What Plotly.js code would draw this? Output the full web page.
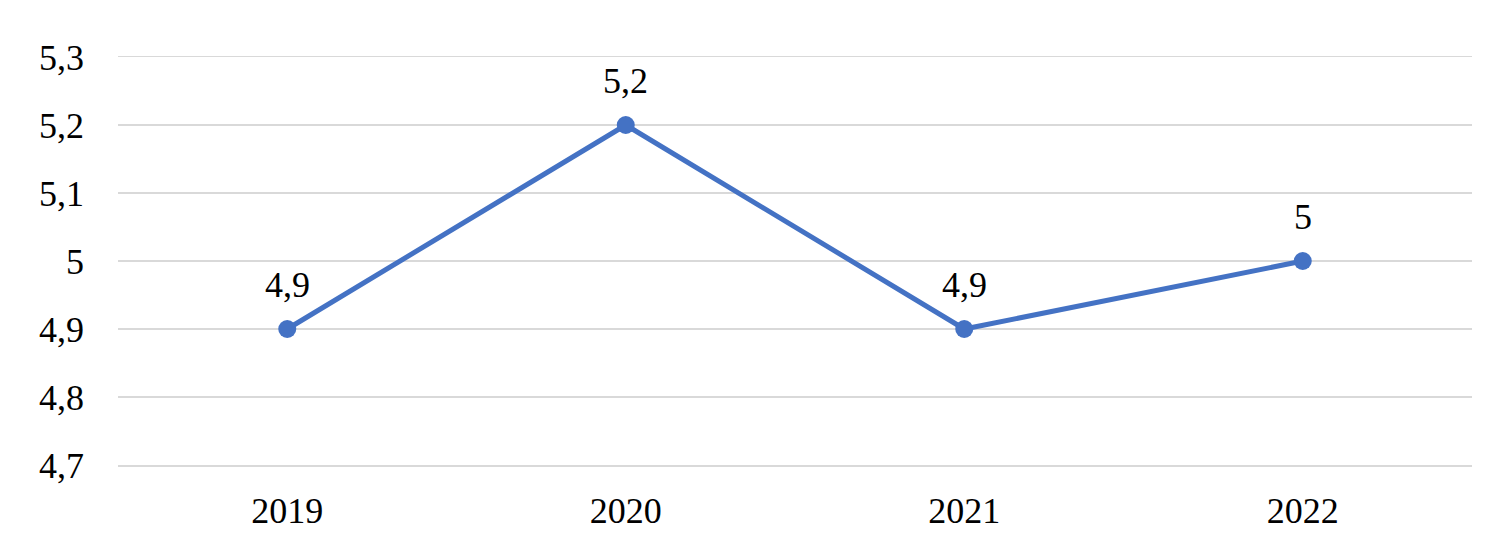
<!DOCTYPE html>
<html>
<head>
<meta charset="utf-8">
<script src="https://cdn.plot.ly/plotly-3.0.1.min.js"></script>
<style>html,body{margin:0;padding:0;background:#fff}#chart{width:1488px;height:549px}</style>
</head>
<body>
<div id="chart"></div>
<script>
const years = ['2019', '2020', '2021', '2022'];
const values = [4.9, 5.2, 4.9, 5.0];
const yTicks = [4.7, 4.8, 4.9, 5.0, 5.1, 5.2, 5.3];
const yTickLabels = ['4,7', '4,8', '4,9', '5', '5,1', '5,2', '5,3'];
const valueLabels = ['4,9', '5,2', '4,9', '5'];

const font = 'Liberation Serif, Times New Roman, serif';
const annotations = years.map((yr, i) => ({
  x: i, y: values[i], text: valueLabels[i], showarrow: false,
  xref: 'x', yref: 'y',
  yshift: 44, font: {family: font, size: 36, color: '#000'}
}));
Plotly.newPlot('chart', [{
  x: years, y: values, type: 'scatter', mode: 'lines+markers',
  line: {color: '#4472C4', width: 5},
  marker: {color: '#4472C4', size: 18},
  cliponaxis: false, hoverinfo: 'skip'
}], {
  width: 1488, height: 549,
  margin: {l: 118, r: 16, t: 57, b: 84},
  paper_bgcolor: '#fff', plot_bgcolor: '#fff',
  showlegend: false,
  separators: ', ',
  annotations: annotations,
  xaxis: {type: 'category', range: [-0.5, 3.5], showgrid: false, zeroline: false,
    showline: true, mirror: true, linecolor: '#D9D9D9', linewidth: 1.5,
    ticks: '', ticklabelstandoff: 13, tickfont: {family: font, size: 36, color: '#000'}},
  yaxis: {range: [4.7, 5.3], tickvals: yTicks, ticktext: yTickLabels,
    showgrid: true, gridcolor: '#D9D9D9', gridwidth: 1.5, zeroline: false, showline: false,
    ticks: '', ticklabelstandoff: 33, tickfont: {family: font, size: 36, color: '#000'}}
}, {staticPlot: true});
</script>
</body>
</html>
